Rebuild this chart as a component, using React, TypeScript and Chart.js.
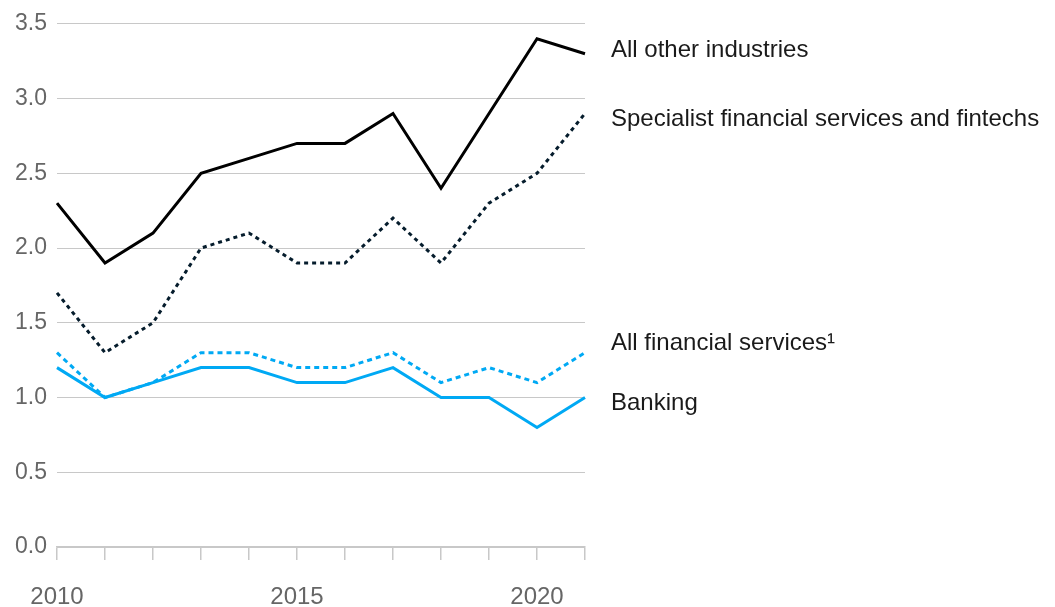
import React, { useEffect, useRef } from "react";
import { Chart, registerables } from "chart.js";

Chart.register(...registerables);

const years = ["2010","2011","2012","2013","2014","2015","2016","2017","2018","2019","2020","2021"];
const shownYears = ["2010", "2015", "2020"];
const yTicks = [0, 0.5, 1, 1.5, 2, 2.5, 3, 3.5];

const allOther = [2.3, 1.9, 2.1, 2.5, 2.6, 2.7, 2.7, 2.9, 2.4, 2.9, 3.4, 3.3];
const specialist = [1.7, 1.3, 1.5, 2.0, 2.1, 1.9, 1.9, 2.2, 1.9, 2.3, 2.5, 2.9];
const allFinancial = [1.3, 1.0, 1.1, 1.3, 1.3, 1.2, 1.2, 1.3, 1.1, 1.2, 1.1, 1.3];
const banking = [1.2, 1.0, 1.1, 1.2, 1.2, 1.1, 1.1, 1.2, 1.0, 1.0, 0.8, 1.0];

const seriesNames = ["All other industries", "Specialist financial services and fintechs", "All financial services¹", "Banking"];
const labelYValues = [3.32, 2.86, 1.36, 0.96];

const FONT = "'Liberation Sans', Arial, sans-serif";

const endLabels = {
  id: "endLabels",
  afterDraw(chart: any) {
    const { ctx, chartArea, scales } = chart;
    ctx.save();
    ctx.font = `24px ${FONT}`;
    ctx.fillStyle = "#1a1a1a";
    ctx.textBaseline = "middle";
    ctx.textAlign = "left";
    seriesNames.forEach((name, i) => {
      const y = scales.y.getPixelForValue(labelYValues[i]);
      ctx.fillText(name, chartArea.right + 26, y);
    });
    ctx.restore();
  },
};

export default function App() {
  const ref = useRef<HTMLCanvasElement>(null);
  useEffect(() => {
    if (!ref.current) return;
    const chart = new Chart(ref.current, {
      type: "line",
      data: {
        labels: years,
        datasets: [
          { label: seriesNames[0], data: allOther, borderColor: "#000000", borderWidth: 3, pointRadius: 0, tension: 0 },
          { label: seriesNames[1], data: specialist, borderColor: "#051c2c", borderWidth: 3, borderDash: [4, 4], pointRadius: 0, tension: 0 },
          { label: seriesNames[2], data: allFinancial, borderColor: "#00a9f4", borderWidth: 3, borderDash: [5, 4], pointRadius: 0, tension: 0 },
          { label: seriesNames[3], data: banking, borderColor: "#00a9f4", borderWidth: 3, pointRadius: 0, tension: 0 },
        ],
      },
      options: {
        animation: false,
        responsive: false,
        maintainAspectRatio: false,
        layout: { padding: { top: 20, right: 470, left: 0, bottom: 0 } },
        plugins: { legend: { display: false }, tooltip: { enabled: false } },
        scales: {
          x: {
            offset: false,
            grid: { drawOnChartArea: false, drawTicks: true, tickLength: 13, color: "#c8c8c8", lineWidth: 1.5 },
            border: { display: true, color: "#c8c8c8", width: 1.5 },
            ticks: {
              autoSkip: false,
              maxRotation: 0,
              padding: 23,
              color: "#666666",
              font: { size: 24, family: FONT },
              callback: (_v: any, i: number) => (shownYears.includes(years[i]) ? years[i] : ""),
            },
            afterFit: (s: any) => { s.height = 60; },
          },
          y: {
            min: 0,
            max: 3.5,
            afterBuildTicks: (s: any) => { s.ticks = yTicks.map((v) => ({ value: v })); },
            grid: { drawTicks: false, color: "#c8c8c8", lineWidth: 1 },
            border: { display: false },
            ticks: {
              padding: 10,
              color: "#666666",
              font: { size: 23, family: FONT },
              callback: (v: any) => Number(v).toFixed(1),
            },
            afterFit: (s: any) => { s.width = 57; },
          },
        },
      },
      plugins: [endLabels],
    });
    return () => chart.destroy();
  }, []);
  return (
    <div style={{ position: "fixed", left: 0, top: 0, width: 1055, height: 607, background: "#fff" }}>
      <canvas ref={ref} width={1055} height={607} />
    </div>
  );
}
